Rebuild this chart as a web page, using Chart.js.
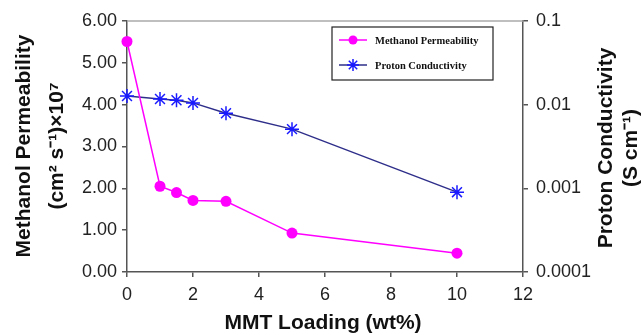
<!DOCTYPE html>
<html>
<head>
<meta charset="utf-8">
<script src="https://cdn.jsdelivr.net/npm/chart.js@4"></script>
<style>
  body { margin: 0; background: #fff; }
  #wrap { width: 641px; height: 335px; }
</style>
</head>
<body>
<div id="wrap"><canvas id="myChart"></canvas></div>
<script>
var loading = [0, 1, 1.5, 2, 3, 5, 10];
var permeability = [5.51, 2.05, 1.90, 1.71, 1.69, 0.93, 0.45];
var conductivity = [0.0127, 0.0117, 0.0113, 0.0105, 0.0079, 0.0051, 0.00090];
var xTicks = [0, 2, 4, 6, 8, 10, 12];
var leftTicks = [0, 1, 2, 3, 4, 5, 6];
var rightTicks = [0.0001, 0.001, 0.01, 0.1];

var tickFont = { family: 'Liberation Sans', size: 18 };
var axisColor = '#555';

// axis titles, legend box and top frame line
var extras = {
  id: 'extras',
  beforeDatasetsDraw: function(chart) {
    var ctx = chart.ctx, a = chart.chartArea;
    ctx.save();
    ctx.strokeStyle = '#aaa';
    ctx.lineWidth = 1.5;
    ctx.beginPath();
    ctx.moveTo(a.left, a.top);
    ctx.lineTo(a.right, a.top);
    ctx.stroke();
    ctx.restore();
  },
  afterDraw: function(chart) {
    var ctx = chart.ctx;
    ctx.save();
    ctx.fillStyle = '#111';
    ctx.textAlign = 'center';
    ctx.textBaseline = 'middle';
    ctx.font = 'bold 21px "Liberation Sans"';

    ctx.fillText('MMT Loading (wt%)', 323, 323);

    ctx.save();
    ctx.translate(24, 146);
    ctx.rotate(-Math.PI / 2);
    ctx.fillText('Methanol Permeability', 0, 0);
    ctx.fillText('(cm\u00B2 s\u207B\u00B9)\u00D710\u2077', 0, 33);
    ctx.restore();

    ctx.save();
    ctx.translate(606, 148);
    ctx.rotate(-Math.PI / 2);
    ctx.fillText('Proton Conductivity', 0, 0);
    ctx.fillText('(S cm\u207B\u00B9)', 0, 25);
    ctx.restore();

    // legend
    ctx.fillStyle = '#fff';
    ctx.fillRect(332, 27, 161, 53);
    ctx.strokeStyle = '#222';
    ctx.lineWidth = 1.2;
    ctx.strokeRect(332, 27, 161, 53);

    ctx.lineWidth = 1.5;
    ctx.strokeStyle = '#ff00ff';
    ctx.beginPath(); ctx.moveTo(339, 40); ctx.lineTo(367, 40); ctx.stroke();
    ctx.fillStyle = '#ff00ff';
    ctx.beginPath(); ctx.arc(353, 40, 4.5, 0, Math.PI * 2); ctx.fill();

    ctx.strokeStyle = '#2e2e8a';
    ctx.beginPath(); ctx.moveTo(339, 65); ctx.lineTo(367, 65); ctx.stroke();
    ctx.strokeStyle = '#1a1aff';
    var r = 6;
    ctx.beginPath();
    ctx.moveTo(353 - r, 65); ctx.lineTo(353 + r, 65);
    ctx.moveTo(353, 65 - r); ctx.lineTo(353, 65 + r);
    ctx.moveTo(353 - r * 0.7, 65 - r * 0.7); ctx.lineTo(353 + r * 0.7, 65 + r * 0.7);
    ctx.moveTo(353 - r * 0.7, 65 + r * 0.7); ctx.lineTo(353 + r * 0.7, 65 - r * 0.7);
    ctx.stroke();

    ctx.fillStyle = '#111';
    ctx.textAlign = 'left';
    ctx.font = 'bold 10.5px "Liberation Serif"';
    ctx.fillText('Methanol Permeability', 375, 41);
    ctx.fillText('Proton Conductivity', 375, 66);
    ctx.restore();
  }
};

function buildChart() {
  var ctx = document.getElementById('myChart').getContext('2d');
  var chart = new Chart(ctx, {
    type: 'line',
    data: {
      datasets: [{
        label: 'Methanol Permeability',
        data: loading.map(function(x, i) { return { x: x, y: permeability[i] }; }),
        borderColor: '#ff00ff',
        backgroundColor: '#ff00ff',
        borderWidth: 1.5,
        pointRadius: 5.5,
        pointBorderWidth: 0,
        tension: 0,
        clip: false,
        yAxisID: 'y'
      }, {
        label: 'Proton Conductivity',
        data: loading.map(function(x, i) { return { x: x, y: conductivity[i] }; }),
        borderColor: '#2e2e8a',
        backgroundColor: '#1a1aff',
        pointBorderColor: '#1a1aff',
        borderWidth: 1.5,
        pointStyle: 'star',
        pointRadius: 7,
        pointBorderWidth: 1.5,
        tension: 0,
        clip: false,
        yAxisID: 'y1'
      }]
    },
    options: {
      responsive: true,
      maintainAspectRatio: false,
      animation: false,
      layout: { padding: { top: 21, bottom: 0, left: 0, right: 0 } },
      plugins: { legend: { display: false }, tooltip: { enabled: false } },
      scales: {
        x: {
          type: 'linear',
          min: 0,
          max: 12,
          afterBuildTicks: function(s) { s.ticks = xTicks.map(function(v) { return { value: v }; }); },
          afterFit: function(s) { s.height = 63; },
          ticks: { font: tickFont, color: '#222', padding: 7 },
          grid: { drawOnChartArea: false, tickLength: 5, color: axisColor, lineWidth: 1.5 },
          border: { color: axisColor, width: 1.5 }
        },
        y: {
          position: 'left',
          min: 0,
          max: 6,
          afterBuildTicks: function(s) { s.ticks = leftTicks.map(function(v) { return { value: v }; }); },
          afterFit: function(s) { s.width = 127; },
          ticks: { font: tickFont, color: '#222', padding: 5, callback: function(v) { return v.toFixed(2); } },
          grid: { drawOnChartArea: false, tickLength: 5, color: axisColor, lineWidth: 1.5 },
          border: { color: axisColor, width: 1.5 }
        },
        y1: {
          type: 'logarithmic',
          position: 'right',
          min: 0.0001,
          max: 0.1,
          afterBuildTicks: function(s) { s.ticks = rightTicks.map(function(v) { return { value: v }; }); },
          afterFit: function(s) { s.width = 118; },
          ticks: { font: tickFont, color: '#222', padding: 8, callback: function(v) { return String(v); } },
          grid: { drawOnChartArea: false, tickLength: 5, color: axisColor, lineWidth: 1.5 },
          border: { color: axisColor, width: 1.5 }
        }
      }
    },
    plugins: [extras]
  });
}

buildChart();
</script>
</body>
</html>
